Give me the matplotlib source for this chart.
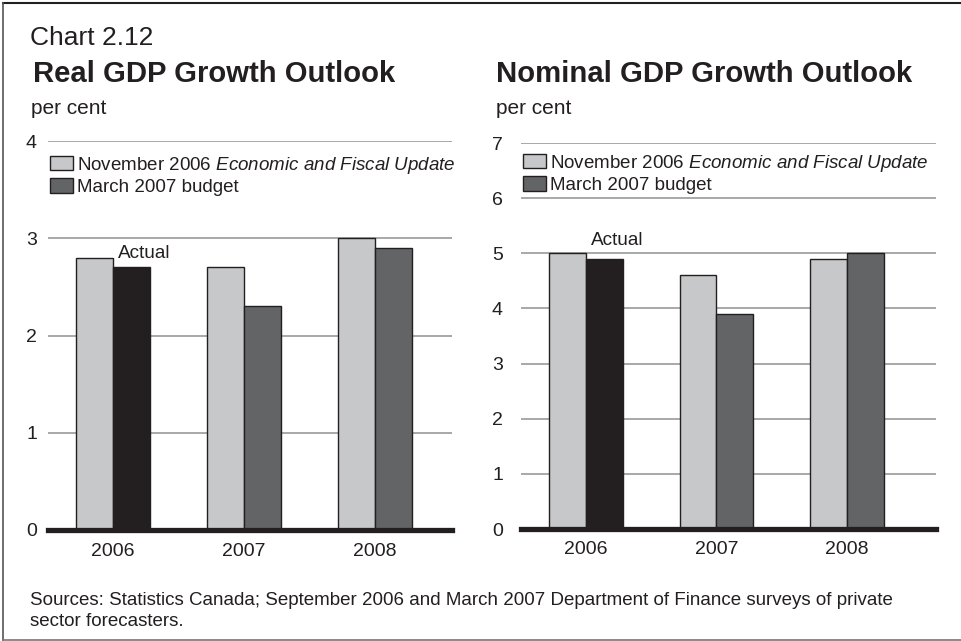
import numpy as np
import matplotlib
matplotlib.use("Agg")
from matplotlib import pyplot as plt
from matplotlib.lines import Line2D

plt.rcParams['font.family'] = ['Liberation Sans', 'DejaVu Sans']
plt.rcParams['mathtext.fontset'] = 'custom'
plt.rcParams['mathtext.rm'] = 'Liberation Sans'
plt.rcParams['mathtext.it'] = 'Liberation Sans:italic'

# data
years = ['2006', '2007', '2008']
real_nov = [2.8, 2.7, 3.0]
real_mar = [2.7, 2.3, 2.9]
nominal_nov = [5.0, 4.6, 4.9]
nominal_mar = [4.9, 3.9, 5.0]
real_ticks = [0, 1, 2, 3, 4]
nominal_ticks = [0, 1, 2, 3, 4, 5, 6, 7]

label_nov = r'November 2006 $\mathit{Economic\ and\ Fiscal\ Update}$'
label_mar = 'March 2007 budget'

c_light = '#c7c8ca'
c_mid = '#636466'
c_dark = '#231f20'
c_grid = '#9a9a9a'

W, H = 961, 641
fig = plt.figure(figsize=(W / 100, H / 100), dpi=100)


def px_axes(x0, x1, y_top, y_bot):
    return fig.add_axes([x0 / W, 1 - y_bot / H, (x1 - x0) / W, (y_bot - y_top) / H])


def draw_panel(ax, nov, mar, ticks, xlim, ytick_pad, leg_anchor, actual_off):
    x = np.arange(len(years))
    w = 0.283
    mar_colors = [c_dark] + [c_mid] * (len(years) - 1)
    ax.bar(x, nov, width=-w, align='edge', color=c_light, edgecolor=c_dark,
           linewidth=1.0, zorder=3)
    ax.bar(x, mar, width=w, align='edge', color=mar_colors, edgecolor=c_dark,
           linewidth=1.0, zorder=3)
    ax.set_xlim(*xlim)
    ax.set_ylim(ticks[0], ticks[-1])
    ax.set_yticks(ticks)
    ax.set_xticks(x)
    ax.set_xticklabels(years)
    for s in ax.spines.values():
        s.set_visible(False)
    ax.grid(axis='y', color=c_grid, linewidth=1.2, zorder=0)
    ax.tick_params(axis='y', length=0, pad=ytick_pad, labelsize=14, labelcolor='#231f20')
    ax.tick_params(axis='x', length=0, pad=9, labelsize=14, labelcolor='#231f20')
    ax.axhline(0, color=c_dark, linewidth=3.8, zorder=5, clip_on=False)
    ax.patch.set_alpha(0)
    handles = [plt.Rectangle((0, 0), 1, 1, facecolor=c_light, edgecolor=c_dark, linewidth=1.0),
               plt.Rectangle((0, 0), 1, 1, facecolor=c_mid, edgecolor=c_dark, linewidth=1.0)]
    ax.legend(handles, [label_nov, label_mar], loc='upper left', bbox_to_anchor=leg_anchor,
              frameon=False, fontsize=13.5, borderpad=0, borderaxespad=0,
              handlelength=1.2, handleheight=0.8, handletextpad=0.25,
              labelspacing=0.14, labelcolor='#231f20')
    ax.annotate('Actual', (0.24, mar[0]), xytext=(0, actual_off), textcoords='offset points',
                ha='center', va='center', fontsize=13.7, color='#231f20', zorder=6)


ax1 = px_axes(48, 452, 141, 530)
draw_panel(ax1, real_nov, real_mar, real_ticks, (-0.496, 2.588), 8,
           (0.005, 0.965), 10)
ax2 = px_axes(521, 936, 143, 529)
draw_panel(ax2, nominal_nov, nominal_mar, nominal_ticks, (-0.498, 2.682), 13,
           (0.005, 0.975), 13)

# headings
fig.text(30 / W, 1 - 45 / H, 'Chart 2.12', fontsize=19, color='#231f20', va='baseline')
fig.text(33 / W, 1 - 82 / H, 'Real GDP Growth Outlook', fontsize=21.1, fontweight='bold',
         color='#231f20', va='baseline')
fig.text(496 / W, 1 - 82 / H, 'Nominal GDP Growth Outlook', fontsize=21.1, fontweight='bold',
         color='#231f20', va='baseline')
fig.text(31 / W, 1 - 114 / H, 'per cent', fontsize=15, color='#231f20', va='baseline')
fig.text(496 / W, 1 - 114 / H, 'per cent', fontsize=15, color='#231f20', va='baseline')

fig.text(30 / W, 1 - 626 / H,
         'Sources: Statistics Canada; September 2006 and March 2007 Department of Finance surveys of private\n'
         'sector forecasters.', fontsize=13.5, color='#231f20', va='baseline', linespacing=1.32)

# frame (top, left, bottom)
fig.add_artist(Line2D([3 / W, 1], [1 - 3 / H, 1 - 3 / H], color='#231f20', lw=1.5))
fig.add_artist(Line2D([3 / W, 3 / W], [1 - 3 / H, 1 - 640 / H], color='#555555', lw=1.2))
fig.add_artist(Line2D([3 / W, 1], [1 - 640 / H, 1 - 640 / H], color='#777777', lw=1.2))

fig.savefig('out.png', dpi=100)
